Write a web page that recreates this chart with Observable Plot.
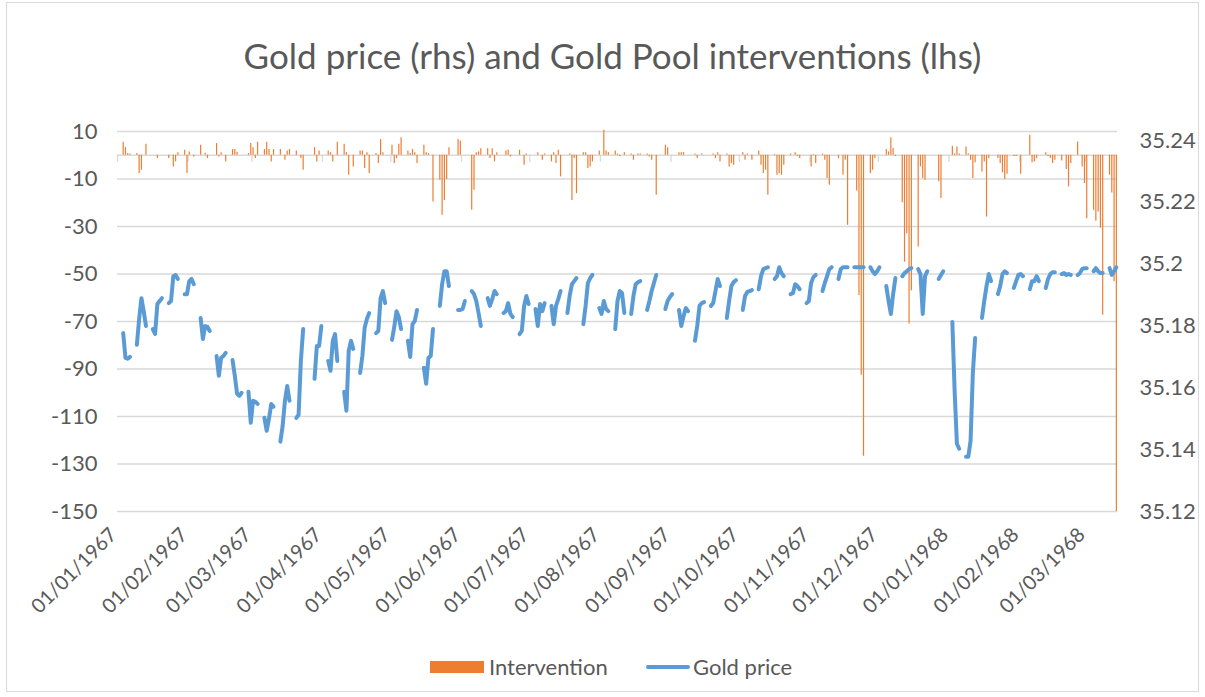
<!DOCTYPE html>
<html><head><meta charset="utf-8">
<script src="https://cdn.jsdelivr.net/npm/d3@7"></script>
<script src="https://cdn.jsdelivr.net/npm/@observablehq/plot@0.6"></script>
<style>
body{margin:0;background:#fff;font-family:Lato,"Open Sans",sans-serif;color:#595959;}
#frame{position:absolute;left:6px;top:2px;width:1193px;height:690px;border:1px solid #d9d9d9;box-sizing:border-box;}
#title{position:absolute;left:10px;width:1205px;top:30px;text-align:center;font-size:35px;line-height:50px;color:#595959;}
#chart{position:absolute;left:0;top:100px;}
.lg{position:absolute;top:653px;font-size:22px;line-height:28px;color:#595959;}
.sw{position:absolute;}
</style></head>
<body>
<div id="frame"></div>
<div id="title">Gold price (rhs) and Gold Pool interventions (lhs)</div>
<div id="chart"></div>
<div class="sw" style="left:430px;top:661px;width:54px;height:12px;background:#ED7D31"></div>
<div class="lg" style="left:489px">Intervention</div>
<div class="sw" style="left:646px;top:665px;width:44px;height:4px;border-radius:2px;background:#5B9BD5"></div>
<div class="lg" style="left:693px">Gold price</div>
<script>
// First Monday of the business-day series; one value per weekday (Mon..Fri), week by week
const firstMonday = "1967-01-02";
const lastDay = "1968-03-14";

// Gold Pool intervention (lhs units), per business day
const intervention = [
  0, 5.5, 3.2, 0.7, 0.5,
  0.7, -7.7, -6.3, 0, 4.6,
  0, 0, -1.4, 0, 0,
  -1.4, 0, -4.9, -2.8, 1.1,
  2.1, -7.7, 1.4, 0, -0.7,
  4.2, 0, 0.8, -1.4, 0,
  4.9, -0.7, 1.1, 0, -2.8,
  2.4, 2.4, 1.3, 0, 0,
  0.7, 4.9, 3.2, -1.4, 5.5,
  2.4, 5.5, 2.4, -2.8, 2.4,
  2.4, 0, -2.1, 1.8, 2.4,
  1.8, 0, -1.4, -6.3, 0,
  0, 3.2, -2.8, 1.8, 0,
  1.8, 1.1, -2.8, 0, 5.5,
  4.6, 1.1, -8.4, 0, -4.9,
  1.8, 1.8, -5.6, 1.1, -7.7,
  0.7, -3.5, 6.6, 1.1, 0,
  4.2, -3.5, -1.4, 4.6, 7.4,
  1.8, 0.7, 2.4, 1.1, -3.5,
  4.2, 1.1, 0.7, 0, -19.7,
  -10.5, -25.3, -19, -10.2, 3.2,
  0, 6.6, 6, 0, 0,
  -23.2, -14.7, 1.1, 1.4, 2.7,
  2.7, -1.4, 2.7, -2.8, 1.1,
  0, 1.8, 2.1, -0.7, 0,
  2.1, 0, -4.2, 0.5, 0,
  0, 1.1, 0, -2.1, 0.5,
  -2.8, 1.1, -3.5, 2.1, -9.1,
  0, 0.5, -19, -1.4, -16.2,
  1.1, 1.1, -5.6, -4.9, -2.8,
  1.8, 0, 10.5, 1.8, 1.1,
  1.8, 0.5, -0.5, 0, 1.1,
  0.5, -2.1, 0, 0.5, 0.5,
  0.5, -0.7, -2.1, 0, -16.8,
  0, 4.2, 3.2, 0, 0,
  1.1, 1.1, 1.1, 0, 0,
  0.5, -1.4, 0, 0.5, 0,
  0, 0.5, -1.4, 1.1, -2.8,
  0.5, -4.9, -3.5, -4.2, 0,
  1.1, -2.1, 0.5, 0, -2.1,
  1.8, -4.2, -7.7, -6.3, -16.8,
  0.3, -8.4, -7.7, -8.4, -4.2,
  0.5, 0, 1.1, -0.5, -1.4,
  0, 0, -4.9, 0.3, -3.5,
  0.5, -2.1, -9.8, -12.6, 0,
  -1.4, 0, -8.4, -2.1, -29.5,
  0, -15, -59, -92.6, -126.7,
  -7.7, -6.3, -1.4, 0, 0,
  2.4, 1.4, 7.4, 2.8, -0.5,
  -20, -45, -33, -71, -57,
  -38.6, -4.9, -9.8, -10.5, 0,
  0, 0, -11.2, -18.2, 0,
  0, 3.8, 0.5, 3.5, 0.5,
  3.5, 0.5, -2.1, -9.8, -3.2,
  -7, -2.8, -26, -1.4, 0,
  -1.4, -3.5, -7.4, -10.2, -8,
  -0.5, -0.5, 0, -8, 0,
  8.4, -3.2, -2.8, -1.4, 0,
  1.1, -0.5, -1.4, -3.5, -2.1,
  -2.4, 0, -6, -13.3, -3.5,
  5.6, 0, -4.9, -11.9, -26.7,
  -23.2, -27.8, -23.9, -30.7, -67.4,
  -8.4, -15.9, -53.3, -150
];

// London gold price (rhs, US$/oz), per business day; null = no fixing
const goldPrice = [
  null, 35.1777, 35.1697, 35.1694, 35.1700,
  35.1739, 35.1823, 35.1890, 35.1848, 35.1800,
  35.1790, 35.1774, 35.1871, 35.1881, 35.1890,
  35.1874, 35.1881, 35.1961, 35.1965, 35.1952,
  35.1903, 35.1903, 35.1945, 35.1952, 35.1935,
  35.1826, 35.1758, 35.1800, 35.1797, 35.1784,
  35.1703, 35.1639, 35.1697, 35.1703, 35.1713,
  35.1690, 35.1639, 35.1581, 35.1574, 35.1584,
  35.1587, 35.1487, 35.1558, 35.1555, 35.1548,
  35.1503, 35.1461, 35.1500, 35.1548, 35.1539,
  35.1426, 35.1477, 35.1558, 35.1606, 35.1558,
  35.1503, 35.1513, 35.1687, 35.1790, null,
  null, 35.1629, 35.1735, 35.1735, 35.1800,
  35.1687, 35.1655, 35.1752, 35.1774, 35.1687,
  35.1587, 35.1526, 35.1719, 35.1752, 35.1726,
  35.1648, 35.1703, 35.1794, 35.1823, 35.1842,
  35.1777, 35.1784, 35.1890, 35.1913, 35.1874,
  35.1755, 35.1797, 35.1848, 35.1829, 35.1790,
  35.1752, 35.1700, 35.1806, 35.1816, 35.1852,
  35.1665, 35.1613, 35.1697, 35.1703, 35.1790,
  35.1865, 35.1935, 35.1977, 35.1977, 35.1929,
  null, 35.1852, 35.1852, 35.1855, 35.1881,
  35.1913, 35.1903, 35.1881, 35.1842, 35.1800,
  35.1890, 35.1865, 35.1887, 35.1913, 35.1903,
  35.1842, 35.1848, 35.1874, 35.1839, 35.1829,
  35.1774, 35.1784, 35.1865, 35.1897, 35.1871,
  35.1855, 35.1800, 35.1871, 35.1848, 35.1874,
  35.1865, 35.1806, 35.1865, 35.1887, 35.1913,
  35.1842, 35.1897, 35.1935, 35.1945, 35.1955,
  35.1806, 35.1865, 35.1939, 35.1955, 35.1965,
  35.1858, 35.1839, 35.1881, 35.1855, 35.1848,
  35.1790, 35.1881, 35.1913, 35.1906, 35.1842,
  35.1839, 35.1897, 35.1935, 35.1942, 35.1945,
  35.1852, 35.1881, 35.1913, 35.1939, 35.1965,
  null, 35.1855, 35.1881, 35.1894, 35.1903,
  35.1852, 35.1800, 35.1832, 35.1858, 35.1848,
  35.1752, 35.1800, 35.1865, 35.1874, 35.1877,
  35.1865, 35.1874, 35.1913, 35.1952, 35.1929,
  35.1826, 35.1881, 35.1929, 35.1942, 35.1948,
  35.1852, 35.1897, 35.1910, 35.1913, 35.1916,
  35.1919, 35.1961, 35.1984, 35.1987, 35.1990,
  35.1952, 35.1961, 35.1990, 35.1971, 35.1961,
  35.1903, 35.1906, 35.1935, 35.1929, 35.1919,
  35.1874, 35.1881, 35.1939, 35.1958, 35.1965,
  35.1913, 35.1939, 35.1961, 35.1984, 35.1990,
  35.1952, 35.1984, 35.1990, 35.1990, 35.1990,
  35.1990, 35.1990, 35.1990, 35.1990, 35.1990,
  35.1990, 35.1977, 35.1968, 35.1977, 35.1990,
  35.1929, 35.1881, 35.1839, 35.1903, 35.1955,
  35.1961, 35.1971, 35.1977, 35.1984, 35.1987,
  35.1984, 35.1968, 35.1839, 35.1961, 35.1977,
  null, null, 35.1952, 35.1965, 35.1977,
  null, 35.1813, 35.1590, 35.1419, 35.1403,
  35.1377, 35.1377, 35.1429, 35.1648, 35.1761,
  35.1826, 35.1881, 35.1929, 35.1968, 35.1945,
  35.1903, 35.1929, 35.1968, 35.1977, 35.1971,
  35.1923, 35.1945, 35.1965, 35.1968, 35.1961,
  35.1919, 35.1945, 35.1945, 35.1961, 35.1945,
  35.1923, 35.1952, 35.1968, 35.1974, 35.1974,
  35.1968, 35.1971, 35.1965, 35.1968, 35.1965,
  35.1965, 35.1971, 35.1984, 35.1987, 35.1987,
  35.1977, 35.1987, 35.1977, 35.1971, 35.1971,
  35.1987, 35.1965, 35.1977, 35.1990
];

const leftTicks = [10, -10, -30, -50, -70, -90, -110, -130, -150];
const rightTicks = [35.12, 35.14, 35.16, 35.18, 35.2, 35.22, 35.24];
const monthTicks = ["1967-01-01","1967-02-01","1967-03-01","1967-04-01","1967-05-01","1967-06-01","1967-07-01",
  "1967-08-01","1967-09-01","1967-10-01","1967-11-01","1967-12-01","1968-01-01","1968-02-01","1968-03-01"];

const leftDomain = [-150, 10];
const rightDomain = [35.12, 35.2429];

// business-day calendar (weekends are empty days, so the line breaks there)
const DAY = 864e5;
const t0 = Date.parse(firstMonday + "T12:00:00Z");
const rows = intervention.map((v, i) => ({
  date: new Date(t0 + (Math.floor(i / 5) * 7 + (i % 5)) * DAY),
  week: Math.floor(i / 5),
  intervention: v,
  price: goldPrice[i]
}));

// map the price onto the left scale for the secondary axis
const k = (leftDomain[1] - leftDomain[0]) / (rightDomain[1] - rightDomain[0]);
const toL = p => leftDomain[0] + (p - rightDomain[0]) * k;
const fromL = L => rightDomain[0] + (L - leftDomain[0]) / k;

const months = monthTicks.map(s => new Date(s + "T00:00:00Z"));
const fmt = d3.utcFormat("%d/%m/%Y");

const chart = Plot.plot({
  width: 1205, height: 540,
  marginLeft: 117, marginRight: 88, marginTop: 31, marginBottom: 129,
  style: {fontFamily: "Lato, 'Open Sans', sans-serif", fontSize: "22px", color: "#595959", background: "transparent"},
  x: {type: "utc", domain: [new Date("1967-01-01T00:00:00Z"), new Date("1968-03-15T00:00:00Z")]},
  y: {domain: leftDomain},
  marks: [
    Plot.gridY(leftTicks, {stroke: "#d9d9d9", strokeOpacity: 1, strokeWidth: 1.3}),
    Plot.ruleY([0], {stroke: "#d9d9d9", strokeWidth: 1.3}),
    Plot.ruleX(months, {y1: 0, y2: -3, stroke: "#d9d9d9", strokeWidth: 1.3}),
    Plot.ruleX(rows, {x: "date", y1: 0, y2: "intervention", stroke: "#ED7D31", strokeWidth: 1.2}),
    Plot.line(rows, {x: "date", y: d => d.price == null ? NaN : toL(d.price), z: "week",
      stroke: "#5B9BD5", strokeWidth: 4, strokeLinecap: "round", strokeLinejoin: "round"}),
    Plot.axisY(leftTicks, {anchor: "left", label: null, tickSize: 0, tickPadding: 20, tickFormat: d => d}),
    Plot.axisY(rightTicks.map(toL), {anchor: "right", label: null, tickSize: 0, tickPadding: 22,
      tickFormat: L => String(+fromL(L).toFixed(2))}),
    Plot.axisX(months, {anchor: "bottom", label: null, tickSize: 0, tickPadding: 20, dx: -4,
      fontSize: 20, tickRotate: -45, tickFormat: fmt})
  ]
});
document.getElementById("chart").appendChild(chart);
</script>
</body></html>
